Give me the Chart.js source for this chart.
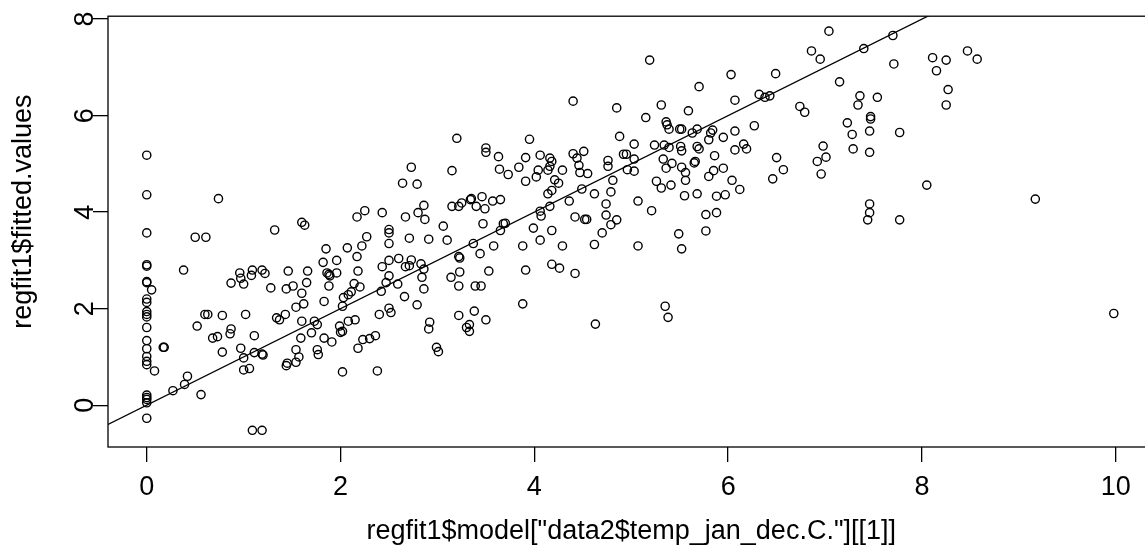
<!DOCTYPE html>
<html>
<head>
<meta charset="utf-8">
<title>regfit1 fitted values</title>
<script src="https://cdn.jsdelivr.net/npm/chart.js@4/dist/chart.umd.min.js"></script>
<style>
  html, body { margin: 0; padding: 0; background: #fff; overflow: hidden; }
  #wrap { width: 1160px; height: 550px; }
</style>
</head>
<body>
<div id="wrap"><canvas id="fitChart" width="1160" height="550"></canvas></div>
<script>
// temp_jan_dec.C. (x) against fitted values (y)
const tempJanDec = [
  0, 0, 0, 0, 0, 0, 0, 0.05, 0, 0,
  0, 0, 0, 0, 0, 0, 0, 0, 0, 0,
  0, 0, 0, 0, 0.08, 0.17, 0.18, 0.27, 0.39, 0.42,
  0.56, 0.52, 0.6, 0.63, 0.68, 0.73, 0.78, 0.78, 0.86, 0.87,
  0.97, 1.0, 1.0, 1.02, 1.06, 1.09, 1.19, 1.11, 1.11, 1.19,
  1.2, 1.34, 1.37, 1.43, 1.45, 1.44, 1.54, 1.57, 1.54, 1.6,
  1.59, 1.7, 1.73, 1.76, 1.76, 1.77, 1.83, 1.91, 1.99, 2.0,
  2.02, 2.02, 2.08, 2.15, 2.18, 2.23, 2.3, 2.36, 2.38, 2.4,
  2.52, 2.92, 2.91, 2.99, 3.01, 3.22, 3.38, 3.3, 3.33, 3.33,
  3.5, 4.63, 5.38, 5.35, 9.98, 8.05, 9.17, 7.77, 7.7, 7.71,
  8.11, 8.25, 8.15, 8.47, 8.57, 8.27, 8.25, 7.77, 7.54, 5.19,
  7.04, 6.86, 6.95, 7.4, 7.15, 6.03, 6.49, 5.7, 6.07, 6.32,
  6.38, 6.43, 5.31, 5.59, 5.15, 5.36, 5.37, 5.39, 5.5, 5.52,
  5.68, 5.63, 5.82, 5.84, 5.8, 5.95, 6.07, 6.27, 6.74, 6.79,
  7.36, 7.34, 7.47, 7.47, 7.23, 7.46, 7.28, 7.29, 7.46, 6.98,
  7.01, 6.92, 6.5, 6.19, 6.16, 6.07, 5.86, 5.68, 5.7, 5.51,
  5.52, 5.39, 5.34, 5.24, 5.03, 4.88, 4.92, 4.95, 5.03, 5.33,
  5.42, 5.66, 5.65, 4.96, 5.03, 5.36, 5.52, 5.56, 5.26, 5.31,
  5.41, 5.56, 5.07, 5.21, 5.55, 5.68, 5.8, 5.85, 5.95, 6.04,
  6.12, 5.88, 5.97, 6.57, 6.46, 6.96, 5.77, 5.88, 5.77, 5.49,
  5.52, 5.07, 7.46, 7.46, 7.44, 3.2, 4.4, 4.85, 3.95, 3.5,
  3.5, 3.63, 3.91, 4.06, 4.16, 4.18, 4.4, 4.44, 4.51, 4.76,
  2.73, 0.74, 0.5, 0.61, 0.38, 1.32, 1.6, 1.63, 1.85, 1.96,
  1.82, 2.07, 2.17, 2.25, 2.17, 2.22, 2.18, 1.46, 1.66, 0.96,
  1.09, 1.19, 0.97, 1.08, 1.0, 0.87, 1.22, 1.28, 1.44, 1.51,
  1.65, 1.6, 1.62, 1.54, 1.83, 1.88, 1.86, 1.88, 1.89, 1.96,
  2.03, 2.08, 2.11, 2.02, 2.14, 2.2, 3.15, 2.64, 2.79, 3.64,
  3.73, 3.84, 3.91, 4.02, 4.04, 4.14, 4.16, 4.21, 4.25, 4.29,
  4.14, 4.18, 4.46, 4.47, 4.55, 4.76, 4.81, 4.49, 4.62, 4.79,
  4.74, 4.74, 4.79, 4.85, 4.7, 4.62, 4.36, 4.42, 4.52, 4.54,
  4.06, 4.07, 4.16, 3.99, 4.18, 4.06, 4.29, 3.88, 4.18, 4.26,
  4.42, 3.91, 3.88, 3.65, 3.68, 3.7, 3.47, 3.34, 3.35, 3.46,
  3.4, 3.49, 3.57, 3.65, 3.15, 3.22, 3.25, 3.37, 3.44, 3.58,
  3.22, 3.23, 3.23, 3.53, 3.14, 3.22, 3.39, 3.45, 2.43, 2.86,
  2.8, 2.87, 2.67, 3.06, 2.5, 2.5, 2.27, 2.5, 2.71, 2.91,
  3.1, 2.5, 2.6, 2.73, 2.71, 2.67, 2.83, 2.86, 2.43, 2.5,
  2.47, 2.59, 2.84, 2.86, 2.42, 2.66, 2.79, 2.5
];
const fittedValues = [
  5.18, 4.36, 3.57, 2.91, 2.88, 2.56, 2.54, 2.39, 2.2, 2.13,
  1.94, 1.88, 1.83, 1.61, 1.34, 1.17, 1.01, 0.91, 0.84, 0.21,
  0.16, 0.12, 0.05, -0.27, 0.71, 1.2, 1.2, 0.3, 0.43, 0.6,
  0.22, 1.64, 1.88, 1.88, 1.39, 1.42, 1.86, 1.1, 1.48, 1.58,
  1.18, 0.98, 0.73, 1.88, 0.76, -0.52, -0.52, 1.44, 1.09, 1.06,
  1.04, 1.81, 1.77, 1.88, 0.87, 0.82, 1.15, 1.0, 0.89, 1.74,
  1.39, 1.5, 1.74, 1.67, 1.15, 1.05, 1.39, 1.31, 1.64, 1.51,
  1.53, 0.69, 1.74, 1.77, 1.18, 1.36, 1.38, 1.44, 0.71, 1.88,
  1.92, 1.72, 1.58, 1.2, 1.11, 1.86, 1.95, 1.61, 1.67, 1.53,
  1.77, 1.68, 1.82, 2.05, 1.9, 4.56, 4.27, 3.84, 7.66, 7.07,
  7.2, 7.15, 6.93, 7.34, 7.17, 6.54, 6.22, 5.65, 6.38, 7.15,
  7.75, 7.34, 7.17, 7.39, 6.7, 6.85, 6.87, 6.6, 6.32, 6.44,
  6.38, 6.41, 6.22, 6.1, 5.96, 5.87, 5.81, 5.72, 5.72, 5.72,
  5.72, 5.64, 5.64, 5.7, 5.5, 5.55, 5.68, 5.79, 6.19, 6.07,
  6.41, 6.22, 5.98, 5.93, 5.85, 5.68, 5.61, 5.31, 5.24, 5.37,
  5.14, 5.05, 5.13, 5.31, 5.41, 5.29, 5.17, 5.36, 5.31, 5.36,
  5.27, 5.34, 5.39, 5.39, 5.41, 5.57, 5.2, 5.2, 5.1, 5.1,
  5.01, 5.05, 5.02, 4.88, 4.85, 4.91, 4.93, 4.82, 4.64, 4.5,
  4.56, 4.66, 4.23, 4.03, 4.34, 4.38, 4.74, 4.86, 4.91, 4.66,
  4.47, 4.33, 4.36, 4.88, 4.69, 4.79, 3.95, 3.99, 3.61, 3.55,
  3.24, 3.3, 4.17, 3.99, 3.84, 5.53, 6.3, 6.16, 5.51, 5.33,
  5.24, 5.15, 5.13, 5.18, 5.12, 5.05, 5.21, 5.12, 5.26, 5.07,
  4.93, 4.28, 3.48, 3.48, 2.8, 3.63, 3.79, 3.73, 3.24, 3.0,
  2.96, 3.26, 3.9, 4.03, 3.08, 3.3, 2.78, 2.78, 2.78, 2.74,
  2.8, 2.8, 2.63, 2.69, 2.51, 2.53, 2.73, 2.43, 2.41, 2.47,
  2.54, 2.32, 2.1, 2.03, 2.15, 2.47, 2.74, 2.71, 2.68, 2.74,
  2.23, 2.29, 2.35, 2.05, 2.52, 2.45, 4.86, 4.6, 4.58, 4.89,
  4.78, 4.93, 4.64, 4.73, 4.87, 4.87, 4.95, 4.67, 4.6, 4.87,
  4.38, 4.45, 4.97, 4.82, 4.8, 4.95, 4.66, 4.48, 4.38, 4.42,
  4.17, 3.94, 3.74, 3.84, 3.57, 3.33, 4.23, 3.9, 3.85, 3.85,
  4.02, 3.92, 4.12, 3.67, 3.62, 3.42, 3.3, 3.3, 2.92, 2.84,
  2.73, 2.8, 2.1, 3.62, 3.76, 3.77, 3.76, 4.26, 4.28, 4.32,
  4.12, 4.07, 4.23, 4.26, 4.12, 4.12, 4.19, 3.35, 3.14, 3.3,
  3.08, 3.05, 2.76, 2.78, 2.65, 2.47, 2.47, 2.47, 3.99, 4.14,
  3.99, 3.85, 3.9, 3.71, 3.64, 3.57, 3.49, 3.35, 3.46, 3.44,
  3.42, 3.0, 3.04, 3.01, 2.89, 2.87, 2.93, 2.82, 2.87, 2.68,
  2.54, 2.51, 2.65, 2.41, 2.36, 2.25, 2.08, 2.01
];
const xTicks = [0, 2, 4, 6, 8, 10];
const yTicks = [0, 2, 4, 6, 8];
const xLimits = [-0.4, 10.4];
const yLimits = [-0.866, 8.06];
const ablineCoef = [0, 1]; // intercept, slope
const xLabel = 'regfit1$model["data2$temp_jan_dec.C."][[1]]';
const yLabel = 'regfit1$fitted.values';

const ink = '#000';
const fontFamily = '"Liberation Sans", Arial, Helvetica, sans-serif';
const labelFont = { family: fontFamily, size: 27, lineHeight: 1.2 };

const scatterPoints = tempJanDec.map((x, i) => ({ x: x, y: fittedValues[i] }));
const ablinePoints = xLimits.map(x => ({ x: x, y: ablineCoef[0] + ablineCoef[1] * x }));

// R style box round the plot region
const plotBox = {
  id: 'plotBox',
  afterDatasetsDraw(chart) {
    const a = chart.chartArea;
    const c = chart.ctx;
    c.save();
    c.strokeStyle = ink;
    c.lineWidth = 1.3;
    c.strokeRect(a.left, a.top, a.right - a.left, a.bottom - a.top);
    c.restore();
  }
};

// y axis title, sits a little above the plot middle like the original
const yTitle = {
  id: 'yTitle',
  afterDraw(chart) {
    const a = chart.chartArea;
    const c = chart.ctx;
    c.save();
    c.translate(24, (a.top + a.bottom) / 2 - 20);
    c.rotate(-Math.PI / 2);
    c.font = labelFont.size + 'px ' + fontFamily;
    c.fillStyle = ink;
    c.textAlign = 'center';
    c.textBaseline = 'middle';
    c.fillText(yLabel, 0, 0);
    c.restore();
  }
};

new Chart(document.getElementById('fitChart'), {
  type: 'scatter',
  data: {
    datasets: [
      {
        data: scatterPoints,
        pointStyle: 'circle',
        pointRadius: 4.1,
        borderWidth: 1.4,
        borderColor: ink,
        backgroundColor: 'rgba(0,0,0,0)'
      },
      {
        data: ablinePoints,
        showLine: true,
        pointRadius: 0,
        borderWidth: 1.3,
        borderColor: ink
      }
    ]
  },
  options: {
    responsive: false,
    animation: false,
    events: [],
    layout: { padding: { top: 14, right: 3, left: 0, bottom: 0 } },
    plugins: { legend: { display: false }, tooltip: { enabled: false } },
    scales: {
      x: {
        type: 'linear',
        min: xLimits[0],
        max: xLimits[1],
        afterBuildTicks: s => { s.ticks = xTicks.map(v => ({ value: v })); },
        afterFit: s => { s.height = 103; },
        border: { display: false },
        grid: { drawOnChartArea: false, drawTicks: true, tickLength: 15, color: ink, lineWidth: 1.3 },
        ticks: { color: ink, font: labelFont, padding: 9, maxRotation: 0, autoSkip: false },
        title: { display: true, text: xLabel, color: ink, font: labelFont, padding: { top: 0, bottom: 2 } }
      },
      y: {
        type: 'linear',
        min: yLimits[0],
        max: yLimits[1],
        afterBuildTicks: s => { s.ticks = yTicks.map(v => ({ value: v })); },
        afterFit: s => { s.width = 108; },
        border: { display: false },
        grid: { drawOnChartArea: false, drawTicks: true, tickLength: 15, color: ink, lineWidth: 1.3 },
        ticks: { color: ink, font: labelFont, padding: 0, minRotation: 90, maxRotation: 90, crossAlign: 'center', autoSkip: false },
        title: { display: false }
      }
    }
  },
  plugins: [plotBox, yTitle]
});
</script>
</body>
</html>
